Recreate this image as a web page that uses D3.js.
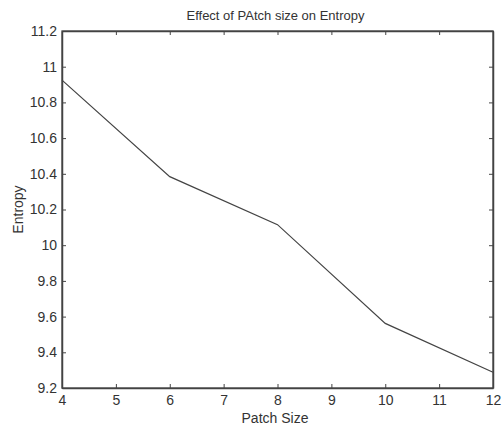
<!DOCTYPE html>
<html>
<head>
<meta charset="utf-8">
<script src="https://cdn.jsdelivr.net/npm/d3@7"></script>
<style>
  body { margin: 0; background: #fff; }
  text { font-family: "Liberation Sans", Arial, sans-serif; fill: #333; }
</style>
</head>
<body>
<svg id="chart" width="503" height="428"></svg>
<script>
// Data
const patchSize = [4, 6, 8, 10, 12];
const entropy = [10.925, 10.384, 10.115, 9.562, 9.288];

const xTicks = [4, 5, 6, 7, 8, 9, 10, 11, 12];
const yTicks = [9.2, 9.4, 9.6, 9.8, 10, 10.2, 10.4, 10.6, 10.8, 11, 11.2];

const titleText = "Effect of PAtch size on Entropy";
const xLabel = "Patch Size";
const yLabel = "Entropy";

// Layout
const width = 503, height = 428;
const margin = { top: 31, right: 10, bottom: 40, left: 62 };
const plotW = width - margin.left - margin.right;
const plotH = height - margin.top - margin.bottom;

const svg = d3.select("#chart");
const g = svg.append("g").attr("transform", `translate(${margin.left},${margin.top})`);

const x = d3.scaleLinear().domain([4, 12]).range([0, plotW]);
const y = d3.scaleLinear().domain([9.2, 11.2]).range([plotH, 0]);

const axisColor = "#444";
const tickLen = 4;
const fontSize = 14;

// Bottom axis (ticks inward)
const xAxis = g.append("g")
  .attr("transform", `translate(0,${plotH})`)
  .call(d3.axisBottom(x).tickValues(xTicks).tickSizeInner(-tickLen).tickSizeOuter(0).tickPadding(7).tickFormat(d3.format("d")));
xAxis.selectAll("text").attr("font-size", fontSize).attr("dy", "0.71em");

// Left axis
const yAxis = g.append("g")
  .call(d3.axisLeft(y).tickValues(yTicks).tickSizeInner(-tickLen).tickSizeOuter(0).tickPadding(5).tickFormat(d => d3.format("~g")(d)));
yAxis.selectAll("text").attr("font-size", fontSize);

// Top and right axes, ticks only
g.append("g")
  .call(d3.axisTop(x).tickValues(xTicks).tickSizeInner(-tickLen).tickSizeOuter(0).tickFormat(""));
g.append("g")
  .attr("transform", `translate(${plotW},0)`)
  .call(d3.axisRight(y).tickValues(yTicks).tickSizeInner(-tickLen).tickSizeOuter(0).tickFormat(""));

g.selectAll(".domain").attr("stroke", axisColor).attr("stroke-width", 1.5);
g.selectAll(".tick line").attr("stroke", axisColor);
g.selectAll(".tick text").style("fill", "#333");

// Box
g.append("rect")
  .attr("width", plotW).attr("height", plotH)
  .attr("fill", "none").attr("stroke", axisColor).attr("stroke-width", 1.3);

// Line
const line = d3.line()
  .x((d, i) => x(patchSize[i]))
  .y(d => y(d));
g.append("path")
  .datum(entropy)
  .attr("fill", "none")
  .attr("stroke", "#444")
  .attr("stroke-width", 1.2)
  .attr("d", line);

// Title and labels
svg.append("text")
  .attr("x", 275.5).attr("y", 20)
  .attr("text-anchor", "middle")
  .attr("font-size", 13)
  .text(titleText);

svg.append("text")
  .attr("x", 275).attr("y", 423)
  .attr("text-anchor", "middle")
  .attr("font-size", fontSize)
  .text(xLabel);

svg.append("text")
  .attr("transform", `translate(23,${margin.top + plotH / 2}) rotate(-90)`)
  .attr("text-anchor", "middle")
  .attr("font-size", fontSize)
  .text(yLabel);
</script>
</body>
</html>
